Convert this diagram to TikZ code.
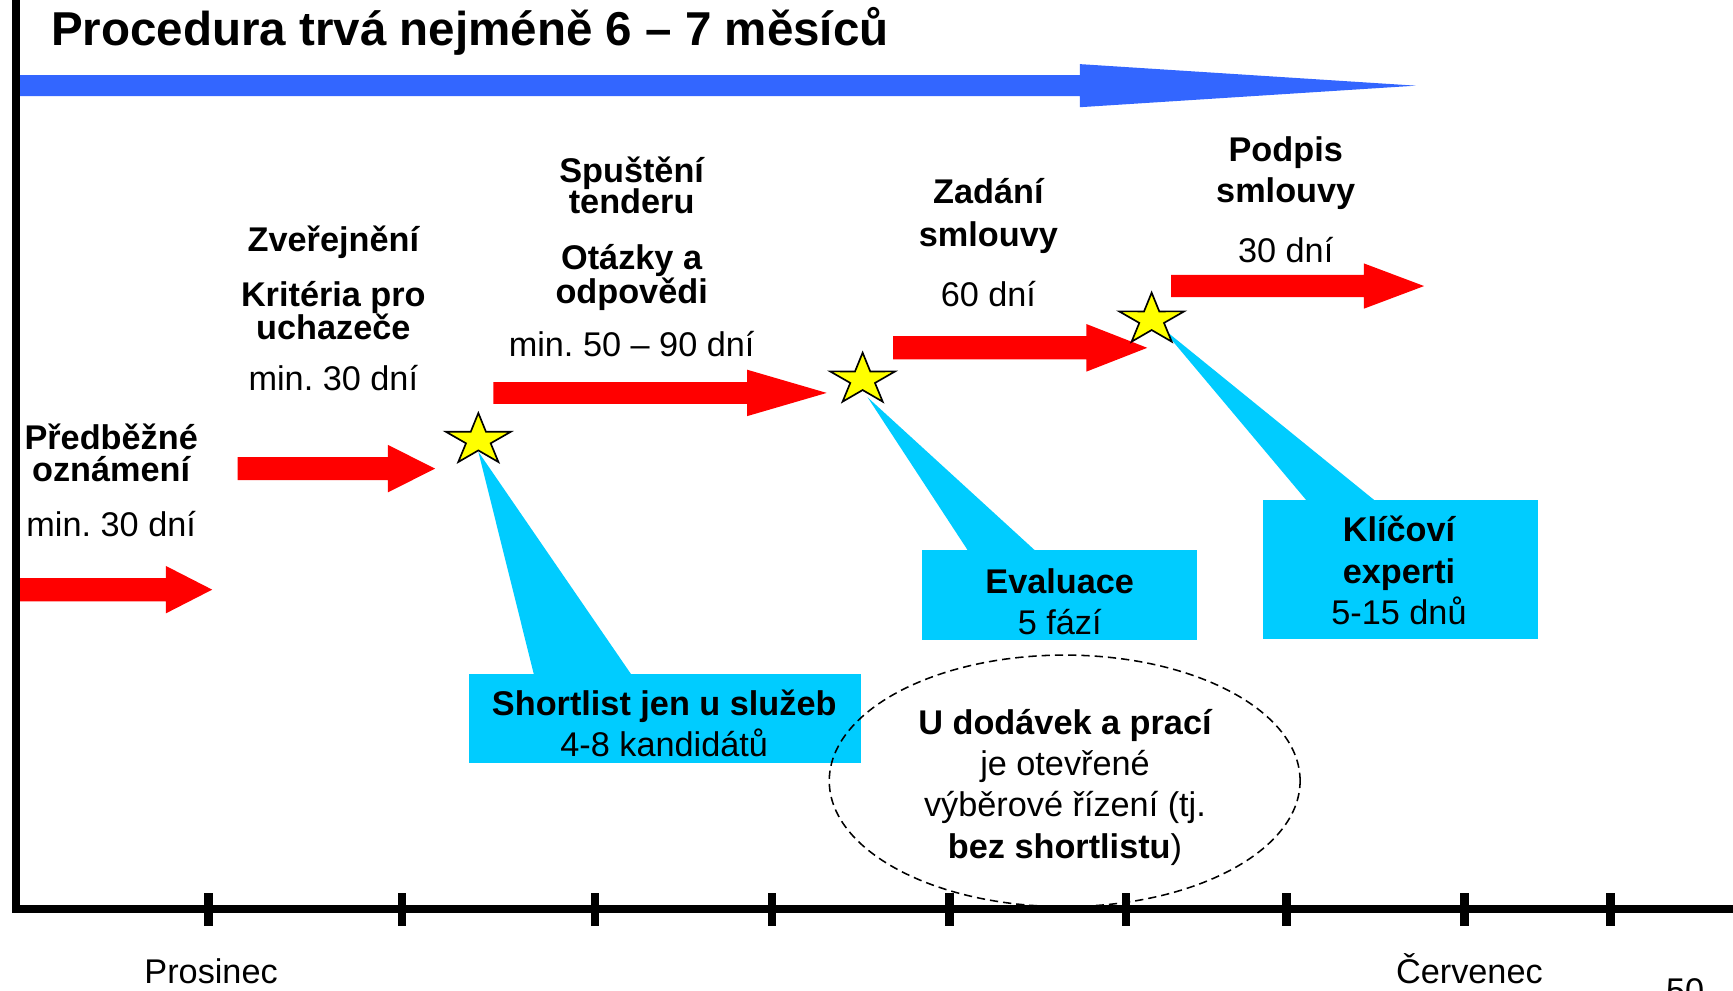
\documentclass[tikz,border=0pt]{standalone}
\usepackage{fontspec}
\setmainfont{Liberation Sans}
\usetikzlibrary{shapes.geometric}
\frenchspacing
\definecolor{arrowblue}{HTML}{3366FF}
\definecolor{arrowred}{HTML}{FF0000}
\definecolor{callcyan}{HTML}{00CCFF}
\definecolor{staryellow}{HTML}{FFFF00}
\newcommand{\fatarrow}[7]{\fill[#1] (#2,#5-#6) -- (#3,#5-#6) -- (#3,#5-#7) -- (#4,#5) -- (#3,#5+#7) -- (#3,#5+#6) -- (#2,#5+#6) -- cycle;}
\newcommand{\starmark}[3]{\coordinate (#1) at (#2,#3);
  \filldraw[starstyle, shift={(#1)}, xscale=30.9, yscale=24.5] (-90:1) -- (-54:0.38) -- (-18:1) -- (18:0.38) -- (54:1) -- (90:0.38) -- (126:1) -- (162:0.38) -- (198:1) -- (234:0.38) -- cycle;}
\tikzset{
  txt/.style={font=\fontsize{15.5}{18}\selectfont, inner sep=0pt, anchor=base},
  btxt/.style={font=\fontsize{15.5}{18}\selectfont\bfseries, inner sep=0pt, anchor=base},
  starstyle/.style={fill=staryellow, draw=black, line width=0.75pt, line join=miter},
  cbox/.style={fill=callcyan, inner sep=0pt, anchor=north west},
  axisline/.style={line width=3.6pt, black},
}
\begin{document}
\begin{tikzpicture}[x=0.5pt, y=-0.5pt]
\clip (0,0) rectangle (1568,896);
\fill[white] (0,0) rectangle (1568,896);

% title and time arrow
\node[anchor=base west, inner sep=0pt, font=\fontsize{21.5}{24}\selectfont\bfseries] (title) at (46,41) {Procedura trvá nejméně 6 – 7 měsíců};
\fatarrow{arrowblue}{15}{977}{1281}{77.5}{9.5}{19.5}

% red phase arrows
\fatarrow{arrowred}{18}{150}{192}{533.5}{10.5}{21.5}
\fatarrow{arrowred}{215}{351}{393.6}{424}{10.5}{21.5}
\fatarrow{arrowred}{446.4}{676}{748}{355.5}{9.8}{21}
\fatarrow{arrowred}{808}{983}{1038}{314.7}{10.5}{21.5}
\fatarrow{arrowred}{1059.5}{1234}{1288.5}{258.8}{10}{20.5}

% callout pointers
\coordinate (t1) at (432.8,408.7);
\coordinate (t2) at (785,359.5);
\coordinate (t3) at (1050,295.5);
\fill[callcyan] (t1) -- (483,610) -- (571,610) -- cycle;
\fill[callcyan] (t2) -- (876,498.5) -- (937,498.5) -- cycle;
\fill[callcyan] (t3) -- (1182.3,453) -- (1244.1,453) -- cycle;

% callout boxes
\node[cbox, minimum width=177.5pt, minimum height=40.3pt] (box1) at (424,609.2) {};
\node[cbox, minimum width=124.3pt, minimum height=40.75pt] (box2) at (834.2,497.6) {};
\node[cbox, minimum width=124.5pt, minimum height=63pt] (box3) at (1142,452) {};

% stars (milestones)
\starmark{s1}{432.8}{398.2}
\starmark{s2}{780.5}{343.6}
\starmark{s3}{1042}{289.3}

% phase labels
\node[btxt] (pre1) at (100.6,406.6) {Předběžné};
\node[btxt] (pre2) at (100.6,435.8) {oznámení};
\node[txt]  (pre3) at (100.6,485.6) {min. 30 dní};

\node[btxt] (zv1) at (301.6,227.7) {Zveřejnění};
\node[btxt] (zv2) at (301.6,276.9) {Kritéria pro};
\node[btxt] (zv3) at (301.6,307) {uchazeče};
\node[txt]  (zv4) at (301.6,353.5) {min. 30 dní};

\node[btxt] (sp1) at (571.5,165.3) {Spuštění};
\node[btxt] (sp2) at (571.5,193.6) {tenderu};
\node[btxt] (sp3) at (571.5,243.7) {Otázky a};
\node[btxt] (sp4) at (571.5,274.5) {odpovědi};
\node[txt]  (sp5) at (571.5,322.7) {min. 50 – 90 dní};

\node[btxt] (za1) at (894.3,184) {Zadání};
\node[btxt] (za2) at (894.3,222.6) {smlouvy};
\node[txt]  (za3) at (894.3,276.9) {60 dní};

\node[btxt] (po1) at (1163.3,146) {Podpis};
\node[btxt] (po2) at (1163.3,183.3) {smlouvy};
\node[txt]  (po3) at (1163.3,237.9) {30 dní};

% callout texts
\node[btxt] (c1a) at (601,647.5) {Shortlist jen u služeb};
\node[txt]  (c1b) at (601,684.6) {4-8 kandidátů};
\node[btxt] (c2a) at (958.8,536.9) {Evaluace};
\node[txt]  (c2b) at (958.8,573.7) {5 fází};
\node[btxt] (c3a) at (1265.8,490.2) {Klíčoví};
\node[btxt] (c3b) at (1265.8,527.7) {experti};
\node[txt]  (c3c) at (1265.8,565.1) {5-15 dnů};

% dashed note
\node[draw=black, ellipse, dash pattern=on 3.75pt off 2.25pt, line width=0.7pt, inner sep=0pt, minimum width=213pt, minimum height=113.8pt] (note) at (963.3,706.5) {};
\node[btxt] (n1) at (963.6,664.5) {U dodávek a prací};
\node[txt]  (n2) at (963.6,701.2) {je otevřené};
\node[txt]  (n3) at (963.6,738.9) {výběrové řízení (tj.};
\node[txt]  (n4) at (963.6,776.6) {\textbf{bez shortlistu})};

% axes
\draw[axisline, line join=miter] (14.7,0) |- (1568,822.5);
\foreach \tx in {188.5,363.5,538.5,698.5,859,1019,1164,1325,1457}
  \draw[axisline, line width=3.8pt] (\tx,808) -- (\tx,838);

\node[txt] (m1) at (191,889.6) {Prosinec};
\node[txt] (m2) at (1329.5,889.6) {Červenec};
\node[txt, anchor=base west] (pg) at (1507,907) {50};
\end{tikzpicture}
\end{document}
